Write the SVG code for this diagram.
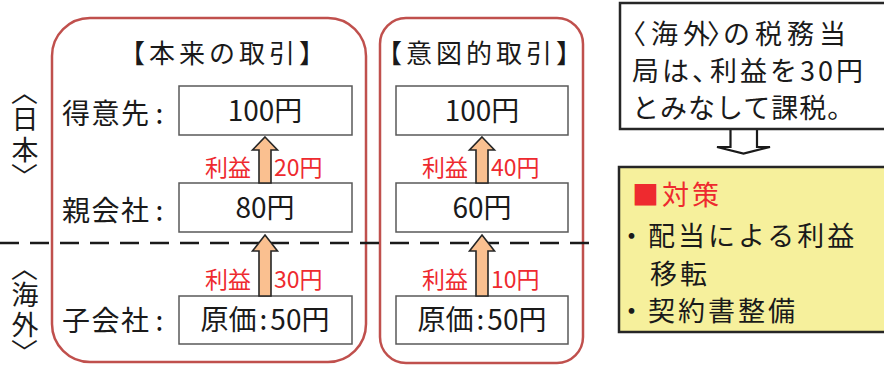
<svg xmlns="http://www.w3.org/2000/svg" width="884" height="365" viewBox="0 0 884 365">
<style>
text{font-family:"Noto Sans CJK JP","Noto Sans",sans-serif;fill:#1a1a1a}
.frame{fill:none;stroke:#c0504d;stroke-width:2.5}
.box{fill:#fff;stroke:#595959;stroke-width:1.5}
.bt{font-size:28px;text-anchor:middle}
.lab{font-size:28px;letter-spacing:1.5px}
.ttl{font-size:26px;letter-spacing:4px;text-anchor:middle}
.red{font-size:23px;fill:#ee2a2f}
.arr{fill:#fac090;stroke:#262626;stroke-width:1.6;stroke-linejoin:miter}
.rt{font-size:27px;letter-spacing:3px}
.vt{font-size:27px;text-anchor:middle}
.br{font-size:27px;text-anchor:middle;dominant-baseline:central}
</style>
<rect width="884" height="365" fill="#fff"/>
<g id="frame-honrai"><rect class="frame" x="52" y="18" width="314" height="344" rx="38"/>
<text class="ttl" x="224" y="63">【本来の取引】</text></g>
<g id="frame-ito"><rect class="frame" x="380" y="18" width="203" height="345" rx="26"/>
<text class="ttl" x="481" y="63">【意図的取引】</text></g>
<g id="region-nihon">
<text class="br" x="25" y="92" transform="rotate(90 25 92)">〈</text>
<text class="vt" x="25" y="129">日</text>
<text class="vt" x="25" y="160">本</text>
<text class="br" x="25" y="176" transform="rotate(90 25 176)">〉</text>
</g>
<g id="region-kaigai">
<text class="br" x="25" y="268" transform="rotate(90 25 268)">〈</text>
<text class="vt" x="25" y="305">海</text>
<text class="vt" x="25" y="335">外</text>
<text class="br" x="25" y="352" transform="rotate(90 25 352)">〉</text>
</g>
<g id="label-tokuisaki"><text class="lab" x="62" y="124">得意先<tspan dx="5">:</tspan></text></g>
<g id="label-oyagaisha"><text class="lab" x="62" y="221">親会社<tspan dx="5">:</tspan></text></g>
<g id="label-kogaisha"><text class="lab" x="62" y="331">子会社<tspan dx="5">:</tspan></text></g>
<g id="n-a1"><rect class="box" x="179" y="86" width="173" height="49"/><text class="bt" x="265" y="121">100円</text></g>
<g id="n-a2"><rect class="box" x="179" y="183" width="173" height="49"/><text class="bt" x="265" y="218">80円</text></g>
<g id="n-a3"><rect class="box" x="179" y="296" width="173" height="48"/><text class="bt" x="265" y="330">原価<tspan dx="3">:</tspan><tspan dx="3">50円</tspan></text></g>
<g id="n-b1"><rect class="box" x="396" y="86" width="172" height="49"/><text class="bt" x="482" y="121">100円</text></g>
<g id="n-b2"><rect class="box" x="396" y="183" width="172" height="49"/><text class="bt" x="482" y="218">60円</text></g>
<g id="n-b3"><rect class="box" x="396" y="296" width="172" height="48"/><text class="bt" x="482" y="330">原価<tspan dx="3">:</tspan><tspan dx="3">50円</tspan></text></g>
<g id="connectors">
<line x1="0" y1="243" x2="592" y2="243" stroke="#1a1a1a" stroke-width="2.5" stroke-dasharray="19 11"/>
<path class="arr" d="M265 137 L277.5 150 L271 150 L271 183 L259 183 L259 150 L252.5 150 Z"/>
<path class="arr" d="M265 235 L277.5 251 L271 251 L271 296 L259 296 L259 251 L252.5 251 Z"/>
<path class="arr" d="M482 137 L494.5 150 L488 150 L488 183 L476 183 L476 150 L469.5 150 Z"/>
<path class="arr" d="M482 235 L494.5 251 L488 251 L488 296 L476 296 L476 251 L469.5 251 Z"/>
<text class="red" x="205" y="176">利益</text><text class="red" x="274" y="176">20円</text>
<text class="red" x="205" y="288">利益</text><text class="red" x="274" y="288">30円</text>
<text class="red" x="422" y="176">利益</text><text class="red" x="491" y="176">40円</text>
<text class="red" x="422" y="288">利益</text><text class="red" x="491" y="288">10円</text>
<path d="M730.5 130 L730.5 147 L717 147 L743.5 153.5 L770 147 L757 147 L757 130" fill="#fff" stroke="#1a1a1a" stroke-width="2.2" stroke-linejoin="miter"/>
</g>
<g id="n-note"><rect x="620" y="3" width="280" height="126" fill="#fff" stroke="#262626" stroke-width="2.5"/>
<text class="rt" x="619" y="44" style="letter-spacing:5px">〈海外<tspan dx="-8">〉</tspan><tspan dx="-16">の税務当</tspan></text>
<text class="rt" x="632" y="81">局は、<tspan dx="-12">利益を30円</tspan></text>
<text class="rt" x="632" y="118" style="letter-spacing:1px">とみなして課税。</text></g>
<g id="n-taisaku"><rect x="619" y="167" width="280" height="165" fill="#f6f09c" stroke="#262626" stroke-width="2.5"/>
<text class="rt" x="632" y="205" style="fill:#ee2a2f">■対策</text>
<text class="rt" x="618" y="246">・配当による利益</text>
<text class="rt" x="650" y="284">移転</text>
<text class="rt" x="618" y="321">・契約書整備</text></g>
</svg>
